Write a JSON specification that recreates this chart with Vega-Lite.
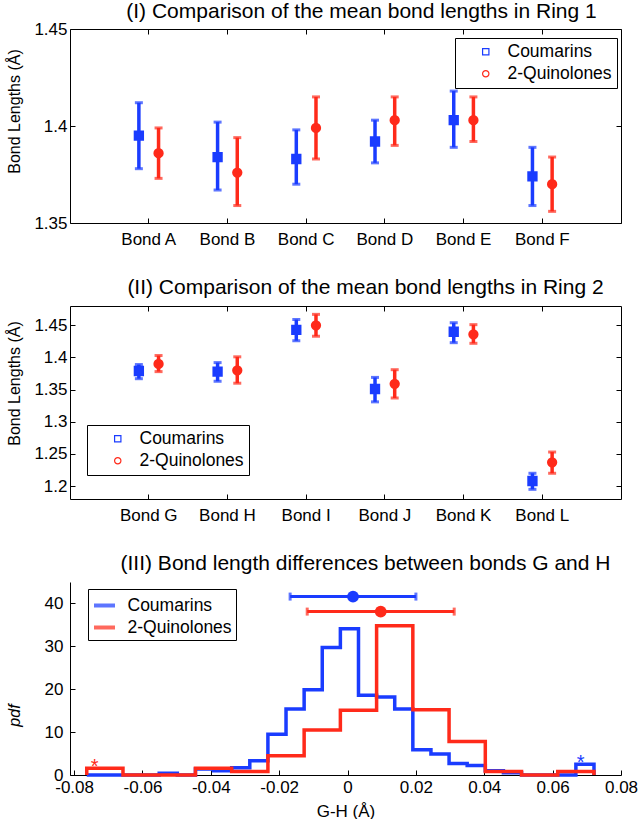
{
  "$schema": "https://vega.github.io/schema/vega-lite/v6.json",
  "background": "white",
  "padding": {"left": 5, "top": 0, "right": 5, "bottom": 0},
  "spacing": 83,
  "bounds": "flush",
  "resolve": {
    "scale": {"color": "independent", "shape": "independent"},
    "legend": {"color": "independent", "shape": "independent"}
  },
  "config": {
    "font": "Liberation Sans",
    "axis": {"labelFont": "Liberation Sans", "titleFont": "Liberation Sans", "titleFontSize": 16, "labelColor": "#000", "titleColor": "#000", "domainColor": "#000", "tickColor": "#000", "grid": false, "titleFontWeight": "normal"},
    "title": {"font": "Liberation Sans", "fontWeight": "normal", "color": "#000"},
    "legend": {"labelFont": "Liberation Sans", "labelColor": "#000"}
  },
  "datasets": {
    "ring1": [
      {"bond": "Bond A", "s": "Coumarins", "mean": 1.395, "lo": 1.378, "hi": 1.412},
      {"bond": "Bond A", "s": "2-Quinolones", "mean": 1.386, "lo": 1.373, "hi": 1.399},
      {"bond": "Bond B", "s": "Coumarins", "mean": 1.384, "lo": 1.367, "hi": 1.402},
      {"bond": "Bond B", "s": "2-Quinolones", "mean": 1.376, "lo": 1.359, "hi": 1.394},
      {"bond": "Bond C", "s": "Coumarins", "mean": 1.383, "lo": 1.370, "hi": 1.398},
      {"bond": "Bond C", "s": "2-Quinolones", "mean": 1.399, "lo": 1.383, "hi": 1.415},
      {"bond": "Bond D", "s": "Coumarins", "mean": 1.392, "lo": 1.381, "hi": 1.403},
      {"bond": "Bond D", "s": "2-Quinolones", "mean": 1.403, "lo": 1.390, "hi": 1.415},
      {"bond": "Bond E", "s": "Coumarins", "mean": 1.403, "lo": 1.389, "hi": 1.418},
      {"bond": "Bond E", "s": "2-Quinolones", "mean": 1.403, "lo": 1.392, "hi": 1.415},
      {"bond": "Bond F", "s": "Coumarins", "mean": 1.374, "lo": 1.359, "hi": 1.389},
      {"bond": "Bond F", "s": "2-Quinolones", "mean": 1.370, "lo": 1.356, "hi": 1.384}
    ],
    "ring2": [
      {"bond": "Bond G", "s": "Coumarins", "mean": 1.379, "lo": 1.367, "hi": 1.389},
      {"bond": "Bond G", "s": "2-Quinolones", "mean": 1.390, "lo": 1.378, "hi": 1.403},
      {"bond": "Bond H", "s": "Coumarins", "mean": 1.378, "lo": 1.363, "hi": 1.392},
      {"bond": "Bond H", "s": "2-Quinolones", "mean": 1.380, "lo": 1.360, "hi": 1.401},
      {"bond": "Bond I", "s": "Coumarins", "mean": 1.443, "lo": 1.426, "hi": 1.459},
      {"bond": "Bond I", "s": "2-Quinolones", "mean": 1.450, "lo": 1.433, "hi": 1.467},
      {"bond": "Bond J", "s": "Coumarins", "mean": 1.351, "lo": 1.331, "hi": 1.369},
      {"bond": "Bond J", "s": "2-Quinolones", "mean": 1.359, "lo": 1.337, "hi": 1.381},
      {"bond": "Bond K", "s": "Coumarins", "mean": 1.440, "lo": 1.423, "hi": 1.454},
      {"bond": "Bond K", "s": "2-Quinolones", "mean": 1.436, "lo": 1.422, "hi": 1.451},
      {"bond": "Bond L", "s": "Coumarins", "mean": 1.208, "lo": 1.195, "hi": 1.220},
      {"bond": "Bond L", "s": "2-Quinolones", "mean": 1.237, "lo": 1.220, "hi": 1.253}
    ],
    "hist": [
      {"s": "Coumarins", "k": 0, "x": -0.0763, "pdf": 0},
      {"s": "Coumarins", "k": 1, "x": -0.0763, "pdf": 0},
      {"s": "Coumarins", "k": 2, "x": -0.0710, "pdf": 0},
      {"s": "Coumarins", "k": 3, "x": -0.0657, "pdf": 0},
      {"s": "Coumarins", "k": 4, "x": -0.0604, "pdf": 0},
      {"s": "Coumarins", "k": 5, "x": -0.0551, "pdf": 0.4},
      {"s": "Coumarins", "k": 6, "x": -0.0498, "pdf": 0},
      {"s": "Coumarins", "k": 7, "x": -0.0445, "pdf": 1.4},
      {"s": "Coumarins", "k": 8, "x": -0.0392, "pdf": 1.0},
      {"s": "Coumarins", "k": 9, "x": -0.0339, "pdf": 1.7},
      {"s": "Coumarins", "k": 10, "x": -0.0286, "pdf": 3.3},
      {"s": "Coumarins", "k": 11, "x": -0.0233, "pdf": 9.5},
      {"s": "Coumarins", "k": 12, "x": -0.0180, "pdf": 15.4},
      {"s": "Coumarins", "k": 13, "x": -0.0127, "pdf": 19.9},
      {"s": "Coumarins", "k": 14, "x": -0.0074, "pdf": 29.7},
      {"s": "Coumarins", "k": 15, "x": -0.0021, "pdf": 34.1},
      {"s": "Coumarins", "k": 16, "x": 0.0032, "pdf": 18.6},
      {"s": "Coumarins", "k": 17, "x": 0.0085, "pdf": 18.2},
      {"s": "Coumarins", "k": 18, "x": 0.0138, "pdf": 15.4},
      {"s": "Coumarins", "k": 19, "x": 0.0191, "pdf": 5.9},
      {"s": "Coumarins", "k": 20, "x": 0.0244, "pdf": 4.9},
      {"s": "Coumarins", "k": 21, "x": 0.0297, "pdf": 2.7},
      {"s": "Coumarins", "k": 22, "x": 0.0350, "pdf": 2.2},
      {"s": "Coumarins", "k": 23, "x": 0.0403, "pdf": 1.0},
      {"s": "Coumarins", "k": 24, "x": 0.0456, "pdf": 0.5},
      {"s": "Coumarins", "k": 25, "x": 0.0509, "pdf": 0},
      {"s": "Coumarins", "k": 26, "x": 0.0562, "pdf": 0},
      {"s": "Coumarins", "k": 27, "x": 0.0615, "pdf": 0},
      {"s": "Coumarins", "k": 28, "x": 0.0668, "pdf": 2.5},
      {"s": "Coumarins", "k": 29, "x": 0.0721, "pdf": 2.5},
      {"s": "Coumarins", "k": 30, "x": 0.0721, "pdf": 0},
      {"s": "2-Quinolones", "k": 0, "x": -0.0763, "pdf": 0},
      {"s": "2-Quinolones", "k": 1, "x": -0.0763, "pdf": 1.6},
      {"s": "2-Quinolones", "k": 2, "x": -0.0657, "pdf": 0},
      {"s": "2-Quinolones", "k": 3, "x": -0.0551, "pdf": 0},
      {"s": "2-Quinolones", "k": 4, "x": -0.0445, "pdf": 1.6},
      {"s": "2-Quinolones", "k": 5, "x": -0.0339, "pdf": 0.8},
      {"s": "2-Quinolones", "k": 6, "x": -0.0233, "pdf": 4.5},
      {"s": "2-Quinolones", "k": 7, "x": -0.0127, "pdf": 10.5},
      {"s": "2-Quinolones", "k": 8, "x": -0.0021, "pdf": 15.1},
      {"s": "2-Quinolones", "k": 9, "x": 0.0085, "pdf": 34.8},
      {"s": "2-Quinolones", "k": 10, "x": 0.0191, "pdf": 15.2},
      {"s": "2-Quinolones", "k": 11, "x": 0.0297, "pdf": 7.8},
      {"s": "2-Quinolones", "k": 12, "x": 0.0403, "pdf": 0.8},
      {"s": "2-Quinolones", "k": 13, "x": 0.0509, "pdf": 0},
      {"s": "2-Quinolones", "k": 14, "x": 0.0615, "pdf": 0.8},
      {"s": "2-Quinolones", "k": 15, "x": 0.0721, "pdf": 0.8},
      {"s": "2-Quinolones", "k": 16, "x": 0.0721, "pdf": 0}
    ],
    "stats": [
      {"s": "Coumarins", "mean": 0.0016, "lo": -0.0168, "hi": 0.0200, "y": 41.6},
      {"s": "2-Quinolones", "mean": 0.0097, "lo": -0.0118, "hi": 0.0312, "y": 38.1}
    ],
    "stars": [
      {"s": "2-Quinolones", "x": -0.074, "y": 3.1, "t": "*"},
      {"s": "Coumarins", "x": 0.0682, "y": 4.0, "t": "*"}
    ]
  },
  "vconcat": [
    {
      "width": 551, "height": 194,
      "view": {"stroke": "#000", "strokeWidth": 1},
      "title": {"text": "(I) Comparison of the mean bond lengths in Ring 1", "fontSize": 21, "dx": 16, "offset": -2},
      "data": {"name": "ring1"},
      "encoding": {
        "x": {"field": "bond", "type": "nominal", "scale": {"paddingInner": 0, "paddingOuter": 0.5}, "axis": null},
        "xOffset": {"field": "s", "type": "nominal", "scale": {"domain": ["Coumarins", "2-Quinolones"], "paddingInner": 0, "paddingOuter": 1.49}}
      },
      "layer": [
        {
          "transform": [{"filter": "datum.s === 'Coumarins'"}],
          "mark": {"type": "rule", "strokeWidth": 3.5, "color": "#1a3cff"},
          "encoding": {
            "x": {"field": "bond", "type": "nominal", "scale": {"paddingInner": 0, "paddingOuter": 0.5}, "axis": {"orient": "bottom", "title": null, "labelAngle": 0, "labelFontSize": 17, "tickSize": -5, "labelPadding": 13, "domain": false}},
            "y": {"field": "lo", "type": "quantitative", "scale": {"domain": [1.35, 1.45], "nice": false, "zero": false}, "axis": {"title": "Bond Lengths (Å)", "titleFontSize": 16, "titleY": 82, "titleX": -48, "labelFontSize": 17, "values": [1.35, 1.4, 1.45], "format": "~g", "tickSize": -5, "labelPadding": 8, "domain": false}},
            "y2": {"field": "hi"}
          }
        },
        {
          "transform": [{"filter": "datum.s === '2-Quinolones'"}],
          "mark": {"type": "rule", "strokeWidth": 3.5, "color": "#ff2a1a"},
          "encoding": {
            "y": {"field": "lo", "type": "quantitative", "axis": null},
            "y2": {"field": "hi"}
          }
        },
        {
          "transform": [{"filter": "datum.s === 'Coumarins'"}, {"fold": ["lo", "hi"], "as": ["end", "v"]}],
          "mark": {"type": "tick", "orient": "horizontal", "size": 8, "thickness": 3, "color": "#1a3cff"},
          "encoding": {"y": {"field": "v", "type": "quantitative", "axis": null}}
        },
        {
          "transform": [{"filter": "datum.s === '2-Quinolones'"}, {"fold": ["lo", "hi"], "as": ["end", "v"]}],
          "mark": {"type": "tick", "orient": "horizontal", "size": 8, "thickness": 3, "color": "#ff2a1a"},
          "encoding": {"y": {"field": "v", "type": "quantitative", "axis": null}}
        },
        {
          "mark": {"type": "point", "filled": false, "strokeWidth": 4, "size": 40, "opacity": 1},
          "encoding": {
            "x": {"field": "bond", "type": "nominal", "axis": {"orient": "top", "labels": false, "title": null, "domain": false, "tickSize": -5}},
            "y": {"field": "mean", "type": "quantitative", "axis": {"orient": "right", "labels": false, "title": null, "domain": false, "tickSize": -5, "values": [1.35, 1.4, 1.45]}},
            "color": {"field": "s", "type": "nominal", "scale": {"domain": ["Coumarins", "2-Quinolones"], "range": ["#1a3cff", "#ff2a1a"]},
              "legend": {"title": null, "orient": "none", "legendX": 385, "legendY": 9, "direction": "vertical", "strokeColor": "#000", "fillColor": "white", "padding": 5, "labelFontSize": 17.5, "symbolSize": 40, "symbolStrokeWidth": 1.2, "symbolOffset": 17, "labelOffset": 13, "rowPadding": 3,
                "encode": {"symbols": {"strokeWidth": {"value": 1.2}}}}},
            "shape": {"field": "s", "type": "nominal", "scale": {"domain": ["Coumarins", "2-Quinolones"], "range": ["square", "circle"]},
              "legend": {"title": null, "orient": "none", "legendX": 385, "legendY": 9, "direction": "vertical", "strokeColor": "#000", "fillColor": "white", "padding": 5, "labelFontSize": 17.5, "symbolSize": 40, "symbolStrokeWidth": 1.2, "symbolOffset": 17, "labelOffset": 13, "rowPadding": 3,
                "encode": {"symbols": {"strokeWidth": {"value": 1.2}}}}}
          }
        },
        {
          "transform": [{"filter": "datum.s === 'Coumarins'"}],
          "mark": {"type": "point", "filled": true, "shape": "square", "size": 40, "opacity": 1, "color": "#1a3cff"},
          "encoding": {"y": {"field": "mean", "type": "quantitative", "axis": null}}
        }
      ],
      "resolve": {"axis": {"x": "independent", "y": "independent"}}
    },
    {
      "width": 551, "height": 193,
      "view": {"stroke": "#000", "strokeWidth": 1},
      "title": {"text": "(II) Comparison of the mean bond lengths in Ring 2", "fontSize": 21, "dx": 20, "offset": 8},
      "data": {"name": "ring2"},
      "encoding": {
        "x": {"field": "bond", "type": "nominal", "scale": {"paddingInner": 0, "paddingOuter": 0.5}, "axis": null},
        "xOffset": {"field": "s", "type": "nominal", "scale": {"domain": ["Coumarins", "2-Quinolones"], "paddingInner": 0, "paddingOuter": 1.49}}
      },
      "layer": [
        {
          "transform": [{"filter": "datum.s === 'Coumarins'"}],
          "mark": {"type": "rule", "strokeWidth": 3.5, "color": "#1a3cff"},
          "encoding": {
            "x": {"field": "bond", "type": "nominal", "scale": {"paddingInner": 0, "paddingOuter": 0.5}, "axis": {"orient": "bottom", "title": null, "labelAngle": 0, "labelFontSize": 17, "tickSize": -5, "labelPadding": 13, "domain": false}},
            "y": {"field": "lo", "type": "quantitative", "scale": {"domain": [1.18, 1.48], "nice": false, "zero": false}, "axis": {"title": "Bond Lengths (Å)", "titleFontSize": 16, "titleY": 77, "titleX": -48, "labelFontSize": 17, "values": [1.2, 1.25, 1.3, 1.35, 1.4, 1.45], "format": "~g", "tickSize": -5, "labelPadding": 8, "domain": false}},
            "y2": {"field": "hi"}
          }
        },
        {
          "transform": [{"filter": "datum.s === '2-Quinolones'"}],
          "mark": {"type": "rule", "strokeWidth": 3.5, "color": "#ff2a1a"},
          "encoding": {
            "y": {"field": "lo", "type": "quantitative", "axis": null},
            "y2": {"field": "hi"}
          }
        },
        {
          "transform": [{"filter": "datum.s === 'Coumarins'"}, {"fold": ["lo", "hi"], "as": ["end", "v"]}],
          "mark": {"type": "tick", "orient": "horizontal", "size": 8, "thickness": 3, "color": "#1a3cff"},
          "encoding": {"y": {"field": "v", "type": "quantitative", "axis": null}}
        },
        {
          "transform": [{"filter": "datum.s === '2-Quinolones'"}, {"fold": ["lo", "hi"], "as": ["end", "v"]}],
          "mark": {"type": "tick", "orient": "horizontal", "size": 8, "thickness": 3, "color": "#ff2a1a"},
          "encoding": {"y": {"field": "v", "type": "quantitative", "axis": null}}
        },
        {
          "mark": {"type": "point", "filled": false, "strokeWidth": 4, "size": 40, "opacity": 1},
          "encoding": {
            "x": {"field": "bond", "type": "nominal", "axis": {"orient": "top", "labels": false, "title": null, "domain": false, "tickSize": -5}},
            "y": {"field": "mean", "type": "quantitative", "axis": {"orient": "right", "labels": false, "title": null, "domain": false, "tickSize": -5, "values": [1.2, 1.25, 1.3, 1.35, 1.4, 1.45]}},
            "color": {"field": "s", "type": "nominal", "scale": {"domain": ["Coumarins", "2-Quinolones"], "range": ["#1a3cff", "#ff2a1a"]},
              "legend": {"title": null, "orient": "none", "legendX": 17, "legendY": 119, "direction": "vertical", "strokeColor": "#000", "fillColor": "white", "padding": 5, "labelFontSize": 17.5, "symbolSize": 40, "symbolStrokeWidth": 1.2, "symbolOffset": 17, "labelOffset": 13, "rowPadding": 3,
                "encode": {"symbols": {"strokeWidth": {"value": 1.2}}}}},
            "shape": {"field": "s", "type": "nominal", "scale": {"domain": ["Coumarins", "2-Quinolones"], "range": ["square", "circle"]},
              "legend": {"title": null, "orient": "none", "legendX": 17, "legendY": 119, "direction": "vertical", "strokeColor": "#000", "fillColor": "white", "padding": 5, "labelFontSize": 17.5, "symbolSize": 40, "symbolStrokeWidth": 1.2, "symbolOffset": 17, "labelOffset": 13, "rowPadding": 3,
                "encode": {"symbols": {"strokeWidth": {"value": 1.2}}}}}
          }
        },
        {
          "transform": [{"filter": "datum.s === 'Coumarins'"}],
          "mark": {"type": "point", "filled": true, "shape": "square", "size": 40, "opacity": 1, "color": "#1a3cff"},
          "encoding": {"y": {"field": "mean", "type": "quantitative", "axis": null}}
        }
      ],
      "resolve": {"axis": {"x": "independent", "y": "independent"}}
    },
    {
      "width": 551, "height": 193,
      "view": {"stroke": null},
      "title": {"text": "(III) Bond length differences between bonds G and H", "fontSize": 21, "dx": 20, "offset": 8},
      "layer": [
        {
          "data": {"name": "hist"},
          "transform": [{"filter": "datum.s === 'Coumarins'"}],
          "mark": {"type": "line", "interpolate": "step-after", "strokeWidth": 3.5},
          "encoding": {
            "x": {"field": "x", "type": "quantitative", "scale": {"domain": [-0.0812, 0.08], "nice": false, "zero": false},
              "axis": {"title": "G-H (Å)", "titleFontSize": 17, "values": [-0.08, -0.06, -0.04, -0.02, 0, 0.02, 0.04, 0.06, 0.08], "labelExpr": "replace(format(datum.value, '~g'), '−', '-')", "labelFontSize": 17, "tickSize": -5, "labelPadding": 9, "titlePadding": 8, "labelFlush": false}},
            "y": {"field": "pdf", "type": "quantitative", "scale": {"domain": [0, 45], "nice": false},
              "axis": {"title": "pdf", "titleFontStyle": "italic", "titleFontSize": 16, "titleY": 133, "titleX": -48, "values": [0, 10, 20, 30, 40], "labelFontSize": 17, "tickSize": -5, "labelPadding": 12}},
            "order": {"field": "k", "type": "quantitative"},
            "color": {"field": "s", "type": "nominal", "scale": {"domain": ["Coumarins", "2-Quinolones"], "range": ["#1a3cff", "#ff2a1a"]},
              "legend": {"title": null, "orient": "none", "legendX": 18, "legendY": 7, "direction": "vertical", "strokeColor": "#000", "fillColor": "white", "padding": 4, "labelFontSize": 17.5, "symbolType": "stroke", "symbolSize": 441, "symbolStrokeWidth": 4, "labelOffset": 10.5, "rowPadding": 1}}
          }
        },
        {
          "data": {"name": "hist"},
          "transform": [{"filter": "datum.s === '2-Quinolones'"}],
          "mark": {"type": "line", "interpolate": "step-after", "strokeWidth": 3.5},
          "encoding": {
            "x": {"field": "x", "type": "quantitative"},
            "y": {"field": "pdf", "type": "quantitative"},
            "order": {"field": "k", "type": "quantitative"},
            "color": {"field": "s", "type": "nominal"}
          }
        },
        {
          "data": {"name": "stats"},
          "mark": {"type": "rule", "strokeWidth": 3},
          "encoding": {
            "x": {"field": "lo", "type": "quantitative"},
            "x2": {"field": "hi"},
            "y": {"field": "y", "type": "quantitative"},
            "color": {"field": "s", "type": "nominal"}
          }
        },
        {
          "data": {"name": "stats"},
          "mark": {"type": "tick", "orient": "vertical", "size": 8, "thickness": 3},
          "encoding": {
            "x": {"field": "lo", "type": "quantitative"},
            "y": {"field": "y", "type": "quantitative"},
            "color": {"field": "s", "type": "nominal"}
          }
        },
        {
          "data": {"name": "stats"},
          "mark": {"type": "tick", "orient": "vertical", "size": 8, "thickness": 3},
          "encoding": {
            "x": {"field": "hi", "type": "quantitative"},
            "y": {"field": "y", "type": "quantitative"},
            "color": {"field": "s", "type": "nominal"}
          }
        },
        {
          "data": {"name": "stats"},
          "mark": {"type": "point", "filled": true, "size": 140, "opacity": 1},
          "encoding": {
            "x": {"field": "mean", "type": "quantitative"},
            "y": {"field": "y", "type": "quantitative"},
            "color": {"field": "s", "type": "nominal"}
          }
        },
        {
          "data": {"name": "stars"},
          "mark": {"type": "text", "fontSize": 20, "baseline": "alphabetic", "dy": 11},
          "encoding": {
            "x": {"field": "x", "type": "quantitative"},
            "y": {"field": "y", "type": "quantitative"},
            "text": {"field": "t"},
            "color": {"field": "s", "type": "nominal"}
          }
        }
      ]
    }
  ]
}
